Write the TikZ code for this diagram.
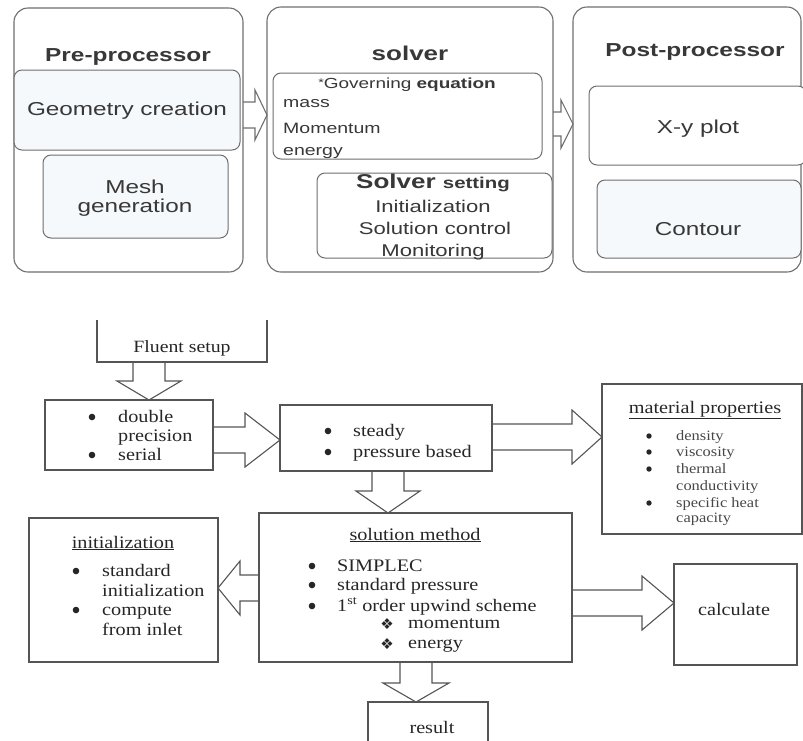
\documentclass[tikz,border=0pt]{standalone}
\usepackage{fontspec}
\usetikzlibrary{calc}
\newfontfamily\topf[FakeStretch=1.3]{Liberation Sans}
\newfontfamily\botf[FakeStretch=1.15]{Liberation Serif}
\newfontfamily\dingf{DejaVu Sans}
\definecolor{topline}{HTML}{6E6E6E}
\definecolor{botline}{HTML}{555555}
\definecolor{toptext}{HTML}{383838}
\definecolor{bottext}{HTML}{262626}
\definecolor{paleblue}{HTML}{F6F9FC}
\newcommand{\bx}[7]{\node[#2, inner sep=0pt, outer sep=0pt, minimum width=#5pt, minimum height=#6pt, anchor=north west] (#1) at (#3,#4) {#7};}
\begin{document}
\begin{tikzpicture}[x=1pt,y=-1pt,
  outerbox/.style={draw=topline, line width=1.1pt, rounded corners=14pt},
  innerbox/.style={draw=topline, line width=1pt, rounded corners=8pt},
  botbox/.style={draw=botline, line width=1.3pt},
  blockarrow/.style={draw=botline, line width=1.1pt},
  arrR/.style n args={3}{to path={let \p1=(\tikztostart), \p2=(\tikztotarget) in
     (\x1,\y1+#1pt) -- (\x2-#3pt,\y1+#1pt) -- (\x2-#3pt,\y1+#2pt) -- (\x2,\y1)
     -- (\x2-#3pt,\y1-#2pt) -- (\x2-#3pt,\y1-#1pt) -- (\x1,\y1-#1pt)}},
  arrL/.style n args={3}{to path={let \p1=(\tikztostart), \p2=(\tikztotarget) in
     (\x1,\y1+#1pt) -- (\x2+#3pt,\y1+#1pt) -- (\x2+#3pt,\y1+#2pt) -- (\x2,\y1)
     -- (\x2+#3pt,\y1-#2pt) -- (\x2+#3pt,\y1-#1pt) -- (\x1,\y1-#1pt)}},
  arrD/.style n args={3}{to path={let \p1=(\tikztostart), \p2=(\tikztotarget) in
     (\x1+#1pt,\y1) -- (\x1+#1pt,\y2+#3pt) -- (\x1+#2pt,\y2+#3pt) -- (\x1,\y2)
     -- (\x1-#2pt,\y2+#3pt) -- (\x1-#1pt,\y2+#3pt) -- (\x1-#1pt,\y1)}},
  tc/.style={inner sep=0pt, anchor=base},
  tw/.style={inner sep=0pt, anchor=base west},
  ttitle/.style={font=\topf\bfseries\fontsize{18.8}{22}\selectfont, text=toptext},
  tbody/.style={font=\topf\fontsize{18.7}{22}\selectfont, text=toptext},
  tsmall/.style={font=\topf\fontsize{15}{18}\selectfont, text=toptext},
  tset/.style={font=\topf\fontsize{17}{20}\selectfont, text=toptext},
  bbody/.style={font=\botf\fontsize{17.6}{20}\selectfont, text=bottext},
  bsmall/.style={font=\botf\fontsize{14.3}{17}\selectfont, text=bottext!85},
  bul/.style={circle, fill=bottext, inner sep=0pt, minimum size=6.6pt},
  bulsmall/.style={circle, fill=bottext, inner sep=0pt, minimum size=5.4pt},
  dia/.style={font=\dingf\fontsize{15}{16}\selectfont, text=bottext}
]
\useasboundingbox (0,0) rectangle (803,740);

% ---------- top section ----------
\bx{pre}{outerbox}{14}{8}{229}{264}{}
\bx{geo}{innerbox, fill=paleblue}{14}{70}{226}{80}{}
\bx{mesh}{innerbox, fill=paleblue}{43}{155}{185}{83}{}
\bx{solver}{outerbox}{267}{7}{286}{265}{}
\bx{gov}{innerbox, fill=white}{273}{73}{269}{86}{}
\bx{sset}{innerbox, fill=white}{317}{173}{235}{85}{}
\bx{post}{outerbox}{573}{7}{228}{265}{}
\bx{xy}{innerbox, fill=white}{589}{86}{217}{79}{}
\bx{contour}{innerbox, fill=paleblue}{597}{180}{204}{78}{}

\node[tc, ttitle] (tpre) at (128,61) {Pre-processor};
\node[tc, tbody] (tgeo) at (127,115) {Geometry creation};
\node[tc, tbody] (tmesh1) at (135,193) {Mesh};
\node[tc, tbody] (tmesh2) at (135,212) {generation};

\node[tc, ttitle, font=\topf\bfseries\fontsize{20}{22}\selectfont] (tsolver) at (410,60) {solver};
\node[tc, font=\topf\fontsize{14.6}{17}\selectfont, text=toptext] (tgov) at (407,88) {\raisebox{2pt}{\fontsize{11}{12}\selectfont*}Governing \textbf{equation}};
\node[tw, tsmall] (tmass) at (283,107) {mass};
\node[tw, tsmall] (tmom) at (283,133) {Momentum};
\node[tw, tsmall] (tene) at (283,155) {energy};
\node[tc, text=toptext, font=\topf] (tset) at (433,188) {\bfseries\fontsize{20}{22}\selectfont Solver \fontsize{15.7}{18}\selectfont setting};
\node[tc, tset] (tinit) at (433,212) {Initialization};
\node[tc, tset] (tsc) at (435,234) {Solution control};
\node[tc, tset] (tmon) at (433,256) {Monitoring};

\node[tc, ttitle] (tpost) at (695,56) {Post-processor};
\node[tc, tbody] (txy) at (698,133) {X-y plot};
\node[tc, tbody] (tcont) at (698,235) {Contour};

\draw[blockarrow, draw=topline, arrR={13}{25}{12}] (pre.east |- 0,115) to (solver.west |- 0,115);
\draw[blockarrow, draw=topline, arrR={12}{24}{12}] (solver.east |- 0,124) to (post.west |- 0,124);

% ---------- bottom section ----------
\node[inner sep=0pt, outer sep=0pt, minimum width=170pt, minimum height=42pt, anchor=north west] (fluent) at (97,320) {};
\draw[botbox] (fluent.north west) -- (fluent.south west) -- (fluent.south east) -- (fluent.north east);
\bx{dbl}{botbox}{45}{400}{168}{70}{}
\bx{steady}{botbox}{280}{405}{212}{66}{}
\bx{mat}{botbox}{602}{384}{200}{150}{}
\bx{sol}{botbox}{259}{513}{313}{149}{}
\bx{init}{botbox}{29}{518}{189}{144}{}
\bx{calc}{botbox}{674}{564}{123}{101}{}
\bx{res}{botbox}{368}{702}{120}{60}{}

\node[tc, bbody, font=\botf\fontsize{17.2}{20}\selectfont] (tfl) at (182,352) {Fluent setup};

\node[bul] (b1) at (92,417) {};
\node[bul] (b2) at (92,455) {};
\node[tw, bbody] (d1) at (118,422) {double};
\node[tw, bbody] (d2) at (118,441) {precision};
\node[tw, bbody] (d3) at (118,460) {serial};

\node[bul] (b3) at (328,431) {};
\node[bul] (b4) at (328,452) {};
\node[tw, bbody] (s1) at (353,436) {steady};
\node[tw, bbody] (s2) at (353,457) {pressure based};

\node[tc, bbody] (mt) at (705,413) {\underline{material properties}};
\node[bulsmall] (b5) at (649,436) {};
\node[bulsmall] (b6) at (649,452) {};
\node[bulsmall] (b7) at (649,469) {};
\node[bulsmall] (b8) at (649,503) {};
\node[tw, bsmall] (m1) at (676,440) {density};
\node[tw, bsmall] (m2) at (676,456) {viscosity};
\node[tw, bsmall] (m3) at (676,473) {thermal};
\node[tw, bsmall] (m4) at (676,490) {conductivity};
\node[tw, bsmall] (m5) at (676,507) {specific heat};
\node[tw, bsmall] (m6) at (676,522) {capacity};

\node[tc, bbody] (st) at (415,540) {\underline{solution method}};
\node[bul] (b9) at (312,566) {};
\node[bul] (b10) at (312,585) {};
\node[bul] (b11) at (312,606) {};
\node[tw, bbody] (o1) at (337,571) {SIMPLEC};
\node[tw, bbody] (o2) at (337,590) {standard pressure};
\node[tw, bbody] (o3) at (337,611) {1\textsuperscript{st} order upwind scheme};
\node[tc, dia] (dm1) at (387,629) {❖};
\node[tc, dia] (dm2) at (387,649) {❖};
\node[tw, bbody] (o4) at (408,628) {momentum};
\node[tw, bbody] (o5) at (408,648) {energy};

\node[tc, bbody] (it) at (123,548) {\underline{initialization}};
\node[bul] (b12) at (76,571) {};
\node[bul] (b13) at (76,610) {};
\node[tw, bbody] (i1) at (102,576) {standard};
\node[tw, bbody] (i2) at (102,596) {initialization};
\node[tw, bbody] (i3) at (102,615) {compute};
\node[tw, bbody] (i4) at (102,635) {from inlet};

\node[tc, bbody] (tcalc) at (734,615) {calculate};
\node[tc, bbody] (tres) at (432,733) {result};

\draw[blockarrow, arrD={16}{32}{19}] (149,0 |- fluent.south) to (149,0 |- dbl.north);
\draw[blockarrow, arrR={13}{27}{35}] (dbl.east |- 0,440) to (steady.west |- 0,440);
\draw[blockarrow, arrR={13}{27}{30}] (steady.east |- 0,437) to (mat.west |- 0,437);
\draw[blockarrow, arrD={16}{32}{22}] (388,0 |- steady.south) to (388,0 |- sol.north);
\draw[blockarrow, arrL={13}{27}{22}] (sol.west |- 0,588) to (init.east |- 0,588);
\draw[blockarrow, arrR={13}{27}{32}] (sol.east |- 0,603) to (calc.west |- 0,603);
\draw[blockarrow, arrD={16}{33}{19}] (416,0 |- sol.south) to (416,0 |- res.north);
\end{tikzpicture}
\end{document}
